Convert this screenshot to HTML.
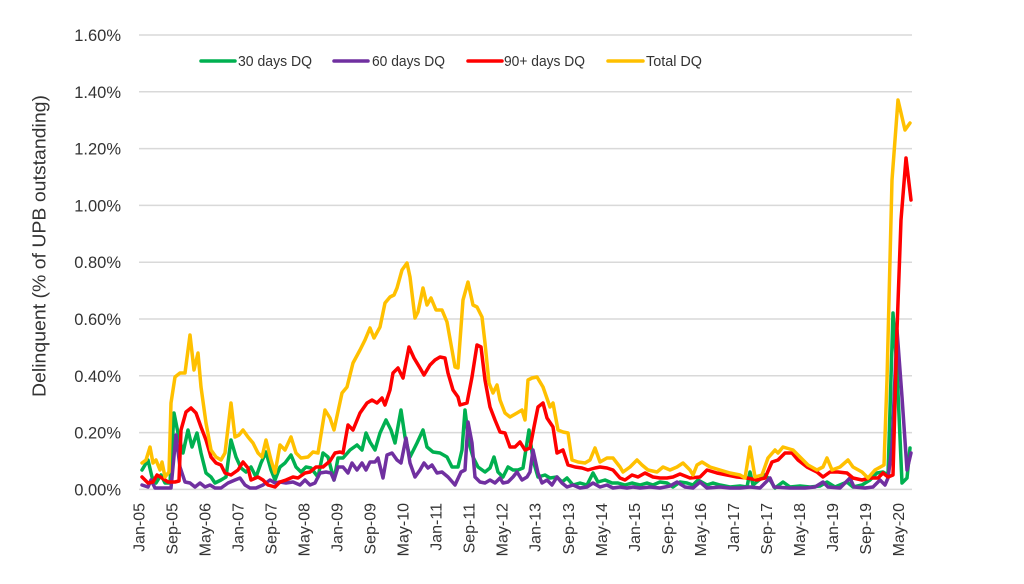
<!DOCTYPE html>
<html>
<head>
<meta charset="utf-8">
<style>
  html, body { margin: 0; padding: 0; background: #ffffff; }
  body { width: 1024px; height: 584px; overflow: hidden; }
  svg { display: block; }
  text { font-family: "Liberation Sans", Arial, sans-serif; fill: #333333; }
</style>
</head>
<body>
<svg width="1024" height="584" viewBox="0 0 1024 584" xmlns="http://www.w3.org/2000/svg">
  <rect x="0" y="0" width="1024" height="584" fill="#ffffff"/>

  <!-- gridlines -->
  <g stroke="#d9d9d9" stroke-width="1.5">
    <line x1="139" y1="35" x2="912" y2="35"/>
    <line x1="139" y1="91.8" x2="912" y2="91.8"/>
    <line x1="139" y1="148.6" x2="912" y2="148.6"/>
    <line x1="139" y1="205.4" x2="912" y2="205.4"/>
    <line x1="139" y1="262.2" x2="912" y2="262.2"/>
    <line x1="139" y1="319" x2="912" y2="319"/>
    <line x1="139" y1="375.8" x2="912" y2="375.8"/>
    <line x1="139" y1="432.6" x2="912" y2="432.6"/>
    <line x1="139" y1="489.4" x2="912" y2="489.4"/>
  </g>

  <!-- y tick labels -->
  <g font-size="16.5" text-anchor="end">
    <text x="121" y="41">1.60%</text>
    <text x="121" y="97.8">1.40%</text>
    <text x="121" y="154.6">1.20%</text>
    <text x="121" y="211.4">1.00%</text>
    <text x="121" y="268.2">0.80%</text>
    <text x="121" y="325">0.60%</text>
    <text x="121" y="381.8">0.40%</text>
    <text x="121" y="438.6">0.20%</text>
    <text x="121" y="495.4">0.00%</text>
  </g>

  <!-- y axis title -->
  <text transform="translate(45.5,246) rotate(-90)" text-anchor="middle" font-size="18" textLength="302" lengthAdjust="spacingAndGlyphs">Delinquent (% of UPB outstanding)</text>

  <!-- x tick labels -->
  <g font-size="16" text-anchor="end">
    <text transform="translate(144.6,503) rotate(-90)">Jan-05</text>
    <text transform="translate(177.6,503) rotate(-90)">Sep-05</text>
    <text transform="translate(210.6,503) rotate(-90)">May-06</text>
    <text transform="translate(243.6,503) rotate(-90)">Jan-07</text>
    <text transform="translate(276.7,503) rotate(-90)">Sep-07</text>
    <text transform="translate(309.7,503) rotate(-90)">May-08</text>
    <text transform="translate(342.7,503) rotate(-90)">Jan-09</text>
    <text transform="translate(375.7,503) rotate(-90)">Sep-09</text>
    <text transform="translate(408.7,503) rotate(-90)">May-10</text>
    <text transform="translate(441.7,503) rotate(-90)">Jan-11</text>
    <text transform="translate(474.7,503) rotate(-90)">Sep-11</text>
    <text transform="translate(507.7,503) rotate(-90)">May-12</text>
    <text transform="translate(540.7,503) rotate(-90)">Jan-13</text>
    <text transform="translate(573.8,503) rotate(-90)">Sep-13</text>
    <text transform="translate(606.8,503) rotate(-90)">May-14</text>
    <text transform="translate(639.8,503) rotate(-90)">Jan-15</text>
    <text transform="translate(672.8,503) rotate(-90)">Sep-15</text>
    <text transform="translate(705.8,503) rotate(-90)">May-16</text>
    <text transform="translate(738.8,503) rotate(-90)">Jan-17</text>
    <text transform="translate(771.8,503) rotate(-90)">Sep-17</text>
    <text transform="translate(804.8,503) rotate(-90)">May-18</text>
    <text transform="translate(837.8,503) rotate(-90)">Jan-19</text>
    <text transform="translate(870.9,503) rotate(-90)">Sep-19</text>
    <text transform="translate(903.9,503) rotate(-90)">May-20</text>
  </g>

  <!-- series -->
  <g fill="none" stroke-width="3.5" stroke-linejoin="round" stroke-linecap="round">
    <!-- 30 days DQ -->
    <polyline stroke="#00b050" points="142,470 148,460 152,477 156,483 161,475 165,483 170,483 174,413 178,433 183,453 188,430 192,447 197,433 201,453 206,473 211,477 215,483 221,480 226,477 231,440 236,457 241,468 246,472 251,467 256,477 261,463 266,452 271,470 275,480 280,467 285,463 291,455 296,467 301,472 306,467 311,468 318,477 323,453 328,457 334,480 338,458 343,458 350,450 357,445 362,450 366,433 370,442 375,450 380,433 386,420 391,430 395,443 401,410 405,437 410,457 417,443 423,430 427,447 433,452 440,453 447,457 452,467 458,467 462,450 465,410 469,443 473,457 478,467 485,472 490,468 494,457 498,472 503,477 508,467 513,470 518,470 523,468 529,430 533,460 538,477 545,475 550,478 557,477 562,482 567,478 573,485 580,483 587,485 593,473 598,482 605,480 612,483 618,483 625,485 632,483 640,485 647,483 653,485 660,482 667,483 673,487 680,482 687,483 693,485 698,480 707,485 713,483 720,485 730,487 740,486 747,487 750,472 753,485 765,475 770,480 775,488 783,482 790,487 800,486 810,487 820,486 827,482 835,487 847,482 853,487 862,485 870,480 877,473 883,472 888,475 893,313 897,370 902,483 907,478 910,448"/>
    <!-- 60 days DQ -->
    <polyline stroke="#7030a0" points="142,485 148,487 151,480 155,488 171,488 176,435 180,467 185,482 190,483 195,487 200,483 205,487 210,485 215,488 221,488 228,483 235,480 240,478 245,485 250,488 256,488 263,485 270,480 275,483 280,482 286,483 293,482 300,485 305,480 310,485 315,483 320,473 326,472 331,473 334,480 338,467 343,467 348,473 352,463 357,470 362,463 366,470 370,462 375,462 378,458 383,478 387,455 392,453 397,460 401,463 406,438 410,463 415,477 420,470 424,463 428,468 432,465 437,473 442,472 448,477 455,485 461,472 465,470 468,422 472,443 475,477 480,482 485,483 490,480 495,483 500,478 503,483 508,482 513,477 517,472 522,480 527,477 530,472 533,450 538,473 542,483 547,480 552,485 557,477 562,483 567,487 573,485 580,488 587,487 593,483 600,487 607,485 613,488 620,487 627,488 633,487 640,488 650,487 660,488 670,486 677,482 685,487 693,488 700,482 707,488 720,487 730,488 740,488 750,487 760,488 770,478 774,487 790,488 805,488 815,487 823,482 828,487 840,488 850,478 854,487 865,488 873,487 880,480 885,485 888,478 892,447 897,330 902,397 907,470 911,453"/>
    <!-- 90+ days DQ -->
    <polyline stroke="#ff0000" points="142,477 148,483 153,482 157,475 162,478 168,482 175,482 179,481 181,430 186,412 191,408 196,413 201,427 206,440 211,457 216,463 221,465 225,473 231,475 238,470 243,462 248,468 251,480 258,477 263,480 268,485 275,487 280,482 286,480 293,477 298,478 305,473 310,472 316,467 323,467 330,461 335,453 340,452 343,453 348,425 353,430 360,413 367,403 372,400 377,403 382,398 385,405 390,390 393,373 398,368 403,378 409,347 414,358 420,368 424,375 430,365 435,360 440,357 445,358 448,373 453,390 458,397 460,405 467,403 472,377 477,345 481,347 485,380 490,407 495,420 500,432 505,433 510,447 515,447 520,442 525,450 530,448 534,427 538,407 543,403 547,418 553,427 557,453 563,450 568,465 575,467 582,468 588,470 595,468 600,467 607,468 613,470 620,478 625,480 632,475 638,477 645,473 653,477 660,478 667,478 673,477 680,474 690,478 700,477 707,470 717,473 727,475 737,477 747,478 757,480 765,478 772,462 778,460 785,453 792,453 798,460 807,467 817,472 823,477 830,472 838,472 847,473 853,478 862,480 870,478 878,478 883,473 888,477 893,475 897,330 901,220 906,158 911,200"/>
    <!-- Total DQ -->
    <polyline stroke="#ffc000" points="142,463 146,460 150,447 153,463 156,460 160,470 162,462 165,477 169,472 171,403 175,377 180,373 185,373 190,335 194,370 198,353 201,387 206,423 211,450 216,457 221,460 225,453 231,403 235,437 239,435 243,430 248,437 253,443 258,453 262,457 266,440 271,460 275,473 280,445 285,450 291,437 296,453 301,458 308,457 313,452 318,453 325,410 330,418 334,430 342,393 347,387 353,363 360,350 365,340 370,328 374,338 380,327 385,303 390,297 394,295 397,288 402,270 407,263 410,277 415,318 418,312 423,288 427,305 431,298 436,310 442,310 447,322 452,350 455,367 458,368 463,300 468,282 473,305 477,307 482,317 485,343 489,383 493,393 497,385 500,400 505,413 510,417 517,413 522,410 525,420 528,380 532,378 537,377 543,387 550,407 553,403 558,430 563,432 568,433 572,460 578,462 585,463 590,460 595,448 600,462 607,458 613,458 620,467 623,472 630,467 637,460 642,465 648,470 657,472 663,467 670,470 677,467 683,463 690,470 693,475 697,465 702,462 710,467 720,470 730,473 740,475 745,478 750,447 755,477 762,475 768,458 775,450 778,453 783,447 793,450 800,457 808,465 817,470 823,467 827,458 832,470 840,467 848,460 853,467 862,472 868,478 875,470 884,465 887,380 892,180 898,100 905,130 910,123"/>
  </g>

  <!-- legend -->
  <g stroke-width="3.5" stroke-linecap="round">
    <line x1="201" y1="61" x2="235" y2="61" stroke="#00b050"/>
    <line x1="334" y1="61" x2="368" y2="61" stroke="#7030a0"/>
    <line x1="468" y1="61" x2="502" y2="61" stroke="#ff0000"/>
    <line x1="608" y1="61" x2="643" y2="61" stroke="#ffc000"/>
  </g>
  <g font-size="15">
    <text x="238" y="66" textLength="74" lengthAdjust="spacingAndGlyphs">30 days DQ</text>
    <text x="372" y="66" textLength="73" lengthAdjust="spacingAndGlyphs">60 days DQ</text>
    <text x="504" y="66" textLength="81" lengthAdjust="spacingAndGlyphs">90+ days DQ</text>
    <text x="646" y="66" textLength="56" lengthAdjust="spacingAndGlyphs">Total DQ</text>
  </g>
</svg>
</body>
</html>
